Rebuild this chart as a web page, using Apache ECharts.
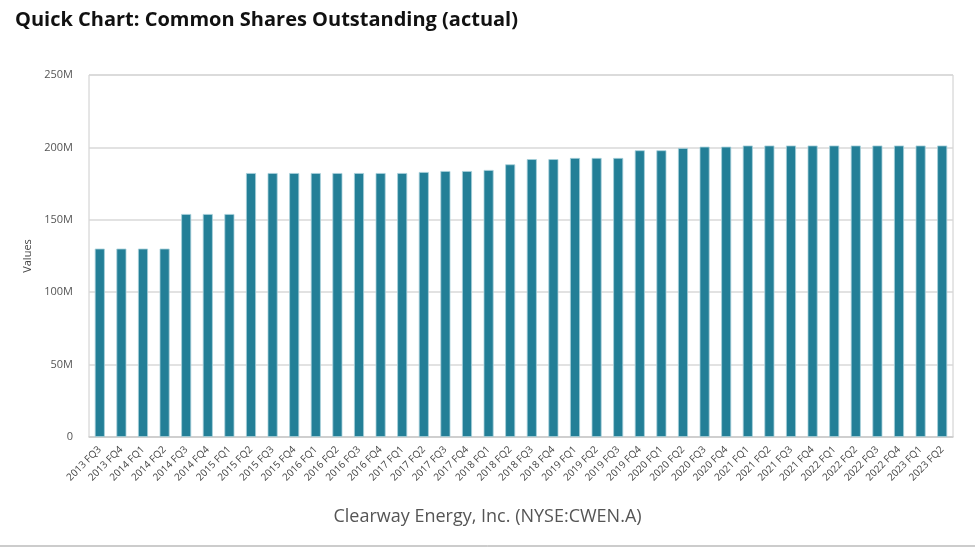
<!DOCTYPE html>
<html><head><meta charset="utf-8">
<script src="https://cdn.jsdelivr.net/npm/echarts@6/dist/echarts.min.js"></script>
<style>html,body{margin:0;padding:0;background:#fff}#c{width:975px;height:554px}</style>
</head><body><div id="c"></div>
<script>
const categories = ["2013 FQ3","2013 FQ4","2014 FQ1","2014 FQ2","2014 FQ3","2014 FQ4","2015 FQ1","2015 FQ2","2015 FQ3","2015 FQ4","2016 FQ1","2016 FQ2","2016 FQ3","2016 FQ4","2017 FQ1","2017 FQ2","2017 FQ3","2017 FQ4","2018 FQ1","2018 FQ2","2018 FQ3","2018 FQ4","2019 FQ1","2019 FQ2","2019 FQ3","2019 FQ4","2020 FQ1","2020 FQ2","2020 FQ3","2020 FQ4","2021 FQ1","2021 FQ2","2021 FQ3","2021 FQ4","2022 FQ1","2022 FQ2","2022 FQ3","2022 FQ4","2023 FQ1","2023 FQ2"];
const sharesMillions = [130.1,130.1,130.1,130.1,154.0,154.0,154.0,182.3,182.3,182.3,182.3,182.3,182.3,182.3,182.3,183.0,183.7,183.7,184.4,188.3,191.9,191.9,192.7,192.7,192.7,198.0,198.0,199.6,200.5,200.5,201.3,201.3,201.3,201.3,201.3,201.3,201.3,201.3,201.3,201.3];
const yTicks = [0,50,100,150,200,250];
const titleText = "Quick Chart: Common Shares Outstanding (actual)";
const captionText = "Clearway Energy, Inc. (NYSE:CWEN.A)";

const chart = echarts.init(document.getElementById('c'));
chart.setOption({
  animation:false,
  title:{text:titleText,left:10,top:5,textStyle:{fontFamily:'Open Sans',fontWeight:'bold',fontSize:20,color:'#111'}},
  graphic:[
    {type:'text',left:'center',top:508,style:{text:captionText,font:'18px "Open Sans"',fill:'#555'}},
    {type:'line',shape:{x1:0,y1:546,x2:975,y2:546},style:{stroke:'#999',lineWidth:1}}
  ],
  grid:{left:89,right:22,top:75,bottom:117,show:true,borderColor:'#ccc',borderWidth:1},
  xAxis:{type:'category',data:categories,
    axisLine:{lineStyle:{color:'#ccc',width:1.5}},axisTick:{show:false},
    axisLabel:{rotate:45,interval:0,fontSize:10,color:'#444',fontFamily:'Open Sans',margin:11}},
  yAxis:{type:'value',min:0,max:250,interval:50,name:'Values',nameLocation:'middle',nameGap:55,
    nameTextStyle:{fontSize:11,color:'#444',fontFamily:'Open Sans'},
    axisLine:{show:false},axisTick:{show:false},
    axisLabel:{fontSize:11,color:'#555',fontFamily:'Open Sans',margin:16,formatter:v=>yTicks.includes(v)?(v===0?'0':v+'M'):''},
    splitLine:{lineStyle:{color:'#d9d9d9',width:1.5}}},
  series:[{type:'bar',data:sharesMillions,barWidth:10,
    itemStyle:{color:'#237f97',borderColor:'#a8d0da',borderWidth:0.8}}]
});
</script></body></html>
